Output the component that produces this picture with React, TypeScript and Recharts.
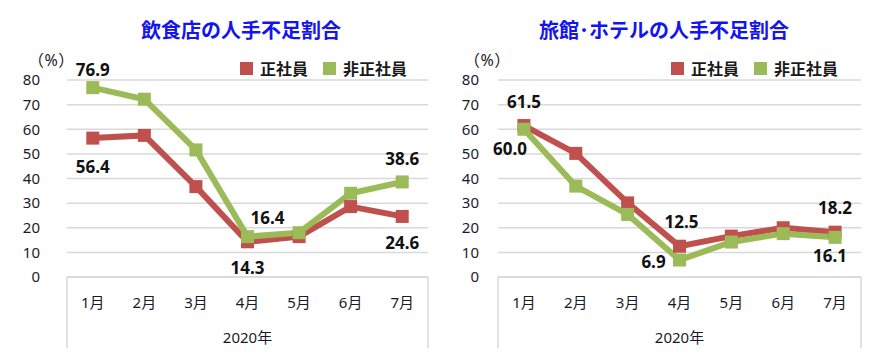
import React from "react";
import { CartesianGrid, LabelList, Legend, Line, LineChart, XAxis, YAxis } from "recharts";

const months = ["1月", "2月", "3月", "4月", "5月", "6月", "7月"];
const yTicks = [0, 10, 20, 30, 40, 50, 60, 70, 80];
const seriesNames = ["正社員", "非正社員"];

const restaurantRegular = [56.4, 57.5, 36.7, 14.3, 16.4, 28.6, 24.6];
const restaurantNonRegular = [76.9, 72.2, 51.6, 16.4, 18.0, 34.0, 38.6];
const hotelRegular = [61.5, 50.2, 30.1, 12.5, 16.6, 20.0, 18.2];
const hotelNonRegular = [60.0, 36.9, 25.4, 6.9, 14.2, 17.6, 16.1];

const RED = "#C0504D";
const GREEN = "#9BBB59";
const FONT = "'Noto Sans', 'Noto Sans CJK JP', sans-serif";
const W = 438;
const H = 359;

type Placement = [number, number] | null;

function buildRows(regular: number[], nonRegular: number[]) {
  return months.map((m, i) => ({ month: m, regular: regular[i], nonRegular: nonRegular[i] }));
}

const squareDot = (color: string) => (props: any) => {
  const { cx, cy, index } = props;
  if (cx == null || cy == null) return <g key={index} />;
  return <rect key={index} x={cx - 6.5} y={cy - 6.5} width={13} height={13} fill={color} />;
};

const valueLabel = (placements: Placement[]) => (props: any) => {
  const { x, y, value, index } = props;
  const p = placements[index];
  if (!p) return null;
  return (
    <text
      x={x + p[0]}
      y={y + p[1]}
      textAnchor="middle"
      dominantBaseline="central"
      fontFamily={FONT}
      fontSize={17}
      fontWeight={700}
      fill="#111"
    >
      {Number(value).toFixed(1)}
    </text>
  );
};

const monthTick = (props: any) => {
  const { x, y, payload } = props;
  return (
    <text x={x} y={y + 25} textAnchor="middle" dominantBaseline="central" fontFamily={FONT} fontSize={15} fill="#1a1a2a">
      {payload.value}
    </text>
  );
};

const yearBox = (props: any) => {
  const vb = props.viewBox || {};
  const { x, y, width } = vb;
  if (x == null) return null;
  return (
    <g>
      <line x1={x} y1={y} x2={x} y2={y + 71} stroke="#d9d9d9" strokeWidth={1.5} />
      <line x1={x + width} y1={y} x2={x + width} y2={y + 71} stroke="#d9d9d9" strokeWidth={1.5} />
      <text x={x + width / 2} y={y + 60} textAnchor="middle" dominantBaseline="central" fontFamily={FONT} fontSize={15} fill="#1a1a2a">
        2020年
      </text>
    </g>
  );
};

const legendContent = (props: any) => {
  const items = props.payload || [];
  return (
    <div style={{ display: "flex", alignItems: "center", fontFamily: FONT, fontSize: 16, fontWeight: 700, color: "#1a1a1a", whiteSpace: "nowrap" }}>
      {items.map((it: any, i: number) => (
        <div key={i} style={{ display: "flex", alignItems: "center", marginLeft: i ? 15 : 0 }}>
          <span style={{ width: 13, height: 13, background: it.color, display: "inline-block", marginRight: 7 }} />
          <span>{it.value}</span>
        </div>
      ))}
    </div>
  );
};

interface PanelProps {
  title: string;
  regular: number[];
  nonRegular: number[];
  titleCenter: number;
  yAxisWidth: number;
  tickGap: number;
  rightMargin: number;
  legendLeft: number;
  percentLeft: number;
  regularLabels: Placement[];
  nonRegularLabels: Placement[];
}

function Panel(p: PanelProps) {
  const rows = buildRows(p.regular, p.nonRegular);
  return (
    <div style={{ position: "relative", width: W, height: H }}>
      <div
        style={{
          position: "absolute",
          left: p.titleCenter - 200,
          width: 400,
          top: 19,
          lineHeight: "24px",
          textAlign: "center",
          fontFamily: FONT,
          fontSize: 20,
          fontWeight: 700,
          color: "#1414ee",
        }}
      >
        {p.title}
      </div>
      <div
        style={{
          position: "absolute",
          left: p.percentLeft,
          top: 52,
          lineHeight: "16px",
          fontFamily: FONT,
          fontSize: 16,
          letterSpacing: 0.5,
          color: "#1a1a2a",
        }}
      >
        （%）
      </div>
      <LineChart width={W} height={H} data={rows} margin={{ top: 80, right: p.rightMargin, bottom: 10, left: 0 }}>
        <CartesianGrid vertical={false} stroke="#d9d9d9" strokeWidth={1.5} />
        <XAxis
          dataKey="month"
          scale="band"
          height={72}
          tickLine={false}
          tickSize={0}
          tickMargin={0}
          axisLine={{ stroke: "#d9d9d9", strokeWidth: 1.5 }}
          tick={monthTick}
          interval={0}
          label={{ content: yearBox }}
        />
        <YAxis
          width={p.yAxisWidth}
          domain={[0, 80]}
          ticks={yTicks}
          interval={0}
          axisLine={false}
          tickLine={false}
          tickSize={0}
          tickMargin={p.tickGap}
          tick={{ fontFamily: FONT, fontSize: 15, fill: "#1a1a2a" }}
        />
        <Legend
          layout="vertical"
          align="center"
          verticalAlign="middle"
          content={legendContent}
          wrapperStyle={{ position: "absolute", top: 56, left: p.legendLeft, width: "auto", height: 24 }}
        />
        <Line
          type="linear"
          dataKey="regular"
          name={seriesNames[0]}
          stroke={RED}
          strokeWidth={6}
          dot={squareDot(RED)}
          activeDot={false}
          isAnimationActive={false}
        >
          <LabelList dataKey="regular" content={valueLabel(p.regularLabels)} />
        </Line>
        <Line
          type="linear"
          dataKey="nonRegular"
          name={seriesNames[1]}
          stroke={GREEN}
          strokeWidth={6}
          dot={squareDot(GREEN)}
          activeDot={false}
          isAnimationActive={false}
        >
          <LabelList dataKey="nonRegular" content={valueLabel(p.nonRegularLabels)} />
        </Line>
      </LineChart>
    </div>
  );
}

export default function App() {
  return (
    <div style={{ position: "absolute", left: 0, top: 0, width: 876, height: 359, display: "flex", background: "#fff" }}>
      <Panel
        title="飲食店の人手不足割合"
        regular={restaurantRegular}
        nonRegular={restaurantNonRegular}
        titleCenter={241}
        yAxisWidth={67}
        tickGap={27}
        rightMargin={10}
        legendLeft={240}
        percentLeft={28}
        regularLabels={[[0, 28], null, null, [0, 26], null, null, [0, 26]]}
        nonRegularLabels={[[0, -18], null, null, [20, -19], null, null, [0, -23]]}
      />
      <Panel
        title="旅館･ホテルの人手不足割合"
        regular={hotelRegular}
        nonRegular={hotelNonRegular}
        titleCenter={226}
        yAxisWidth={60}
        tickGap={19}
        rightMargin={15}
        legendLeft={233}
        percentLeft={26}
        regularLabels={[[0, -24], null, null, [2, -25], null, null, [0, -25]]}
        nonRegularLabels={[[-14, 19], null, null, [-26, 1], null, null, [-5, 18]]}
      />
    </div>
  );
}
